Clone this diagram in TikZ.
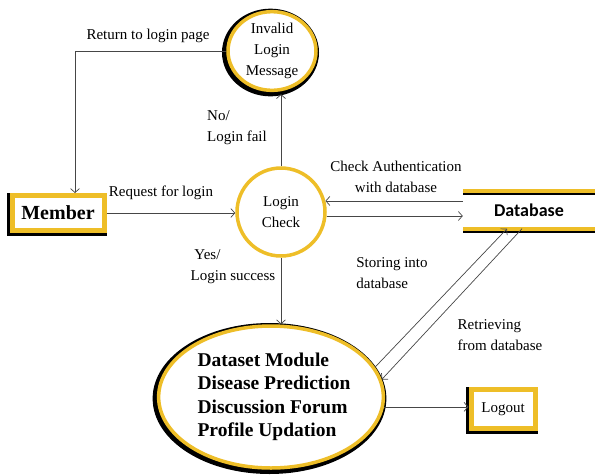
\documentclass[tikz,border=0pt]{standalone}
\usepackage{fontspec}
\setmainfont{Liberation Serif}
\newfontfamily\dbfont{Carlito}
\usetikzlibrary{shapes.geometric, arrows.meta}
\definecolor{gold}{RGB}{238,190,40}
\definecolor{flowgray}{RGB}{70,70,70}
\tikzset{
  lbl/.style={font=\rmfamily\fontsize{15}{21}\selectfont, align=center, inner sep=1pt},
  flow/.style={-{Straight Barb[length=4pt, width=9pt]}, draw=flowgray, line width=0.7pt},
  ring/.style={ellipse, draw=gold, line width=3.5pt, fill=white, inner sep=0pt, align=center},
  ringblack/.style={ring, preaction={draw=black, line width=9pt,
    transform canvas={xshift=-1.5pt, yshift=-1.5pt}}},
  entity/.style={rectangle, draw=gold, line width=5pt, fill=white,
    preaction={draw=black, line width=8pt, transform canvas={xshift=-1pt, yshift=-1pt}}},
}
\begin{document}
\begin{tikzpicture}[x=1pt, y=-1pt]
		\useasboundingbox (0,0) rectangle (597,475);
		% processes
		\node[ringblack, minimum width=88pt, minimum height=78pt,
		  font=\rmfamily\fontsize{15}{21}\selectfont] (invalid) at (272,51) {Invalid\\Login\\Message};
		\node[ring, minimum width=88pt, minimum height=88pt,
		  font=\rmfamily\fontsize{15}{21}\selectfont] (login) at (281,212) {Login\\Check};
		\node[ringblack, minimum width=222pt, minimum height=142pt, align=left,
		  font=\rmfamily\fontsize{19.5}{23.5}\selectfont\bfseries] (modules) at (271,397)
		  {\hspace*{6pt}Dataset Module\\\hspace*{6pt}Disease Prediction\\\hspace*{6pt}Discussion Forum\\\hspace*{6pt}Profile Updation};
		% entities
		\node[entity, minimum width=92pt, minimum height=35pt,
		  font=\rmfamily\fontsize{20}{24}\selectfont\bfseries] (member) at (58,213) {Member};
		\node[entity, minimum width=64pt, minimum height=39pt,
		  font=\rmfamily\fontsize{15}{18}\selectfont] (logout) at (503,409) {Logout};
		% data store
		\node[minimum width=132pt, minimum height=37pt,
		  font=\fontsize{18}{20}\selectfont\dbfont\bfseries] (db) at (529,210) {Database};
		\draw[black, line width=4pt] ([yshift=-2pt]db.north west) -- ([yshift=-2pt]db.north east);
		\draw[gold, line width=4pt] (db.north west) -- (db.north east);
		\draw[black, line width=4pt] ([yshift=-2pt]db.south west) -- ([yshift=-2pt]db.south east);
		\draw[gold, line width=4pt] (db.south west) -- (db.south east);
		% flows
		\draw[flow] (member.east) -- (member.east -| login.west);
		\draw[flow] (login.north) -- ([yshift=-2pt]invalid.south -| login.north);
		\draw[flow] (invalid.west) -| ([xshift=17pt]member.north);
		\draw[flow] (db.west |- login.14) -- (login.14);
		\draw[flow] (login.-5) -- (db.west |- login.-5);
		\draw[flow] (login.south) -- (modules.north -| login.south);
		\draw[flow] (modules.16) -- ([xshift=-22pt]db.south);
		\draw[flow] ([xshift=-7pt]db.south) -- (modules.9);
		\draw[flow] (modules.-5) -- (modules.-5 -| logout.west);
		% labels
		\node[lbl] (lreturn) at (148,36) {Return to login page};
		\node[lbl, align=left] (lfail) at (237,128) {No/\\Login fail};
		\node[lbl] (lrequest) at (161,193) {Request for login};
		\node[lbl] (lcheck) at (396,177) {Check Authentication\\with database};
		\node[lbl, align=left] (lsuccess) at (233,267) {\ Yes/\\Login success};
		\node[lbl, align=left] (lstore) at (392,273) {Storing into\\database};
		\node[lbl, align=left] (lretrieve) at (500,335) {Retrieving\\from database};
\end{tikzpicture}
\end{document}
